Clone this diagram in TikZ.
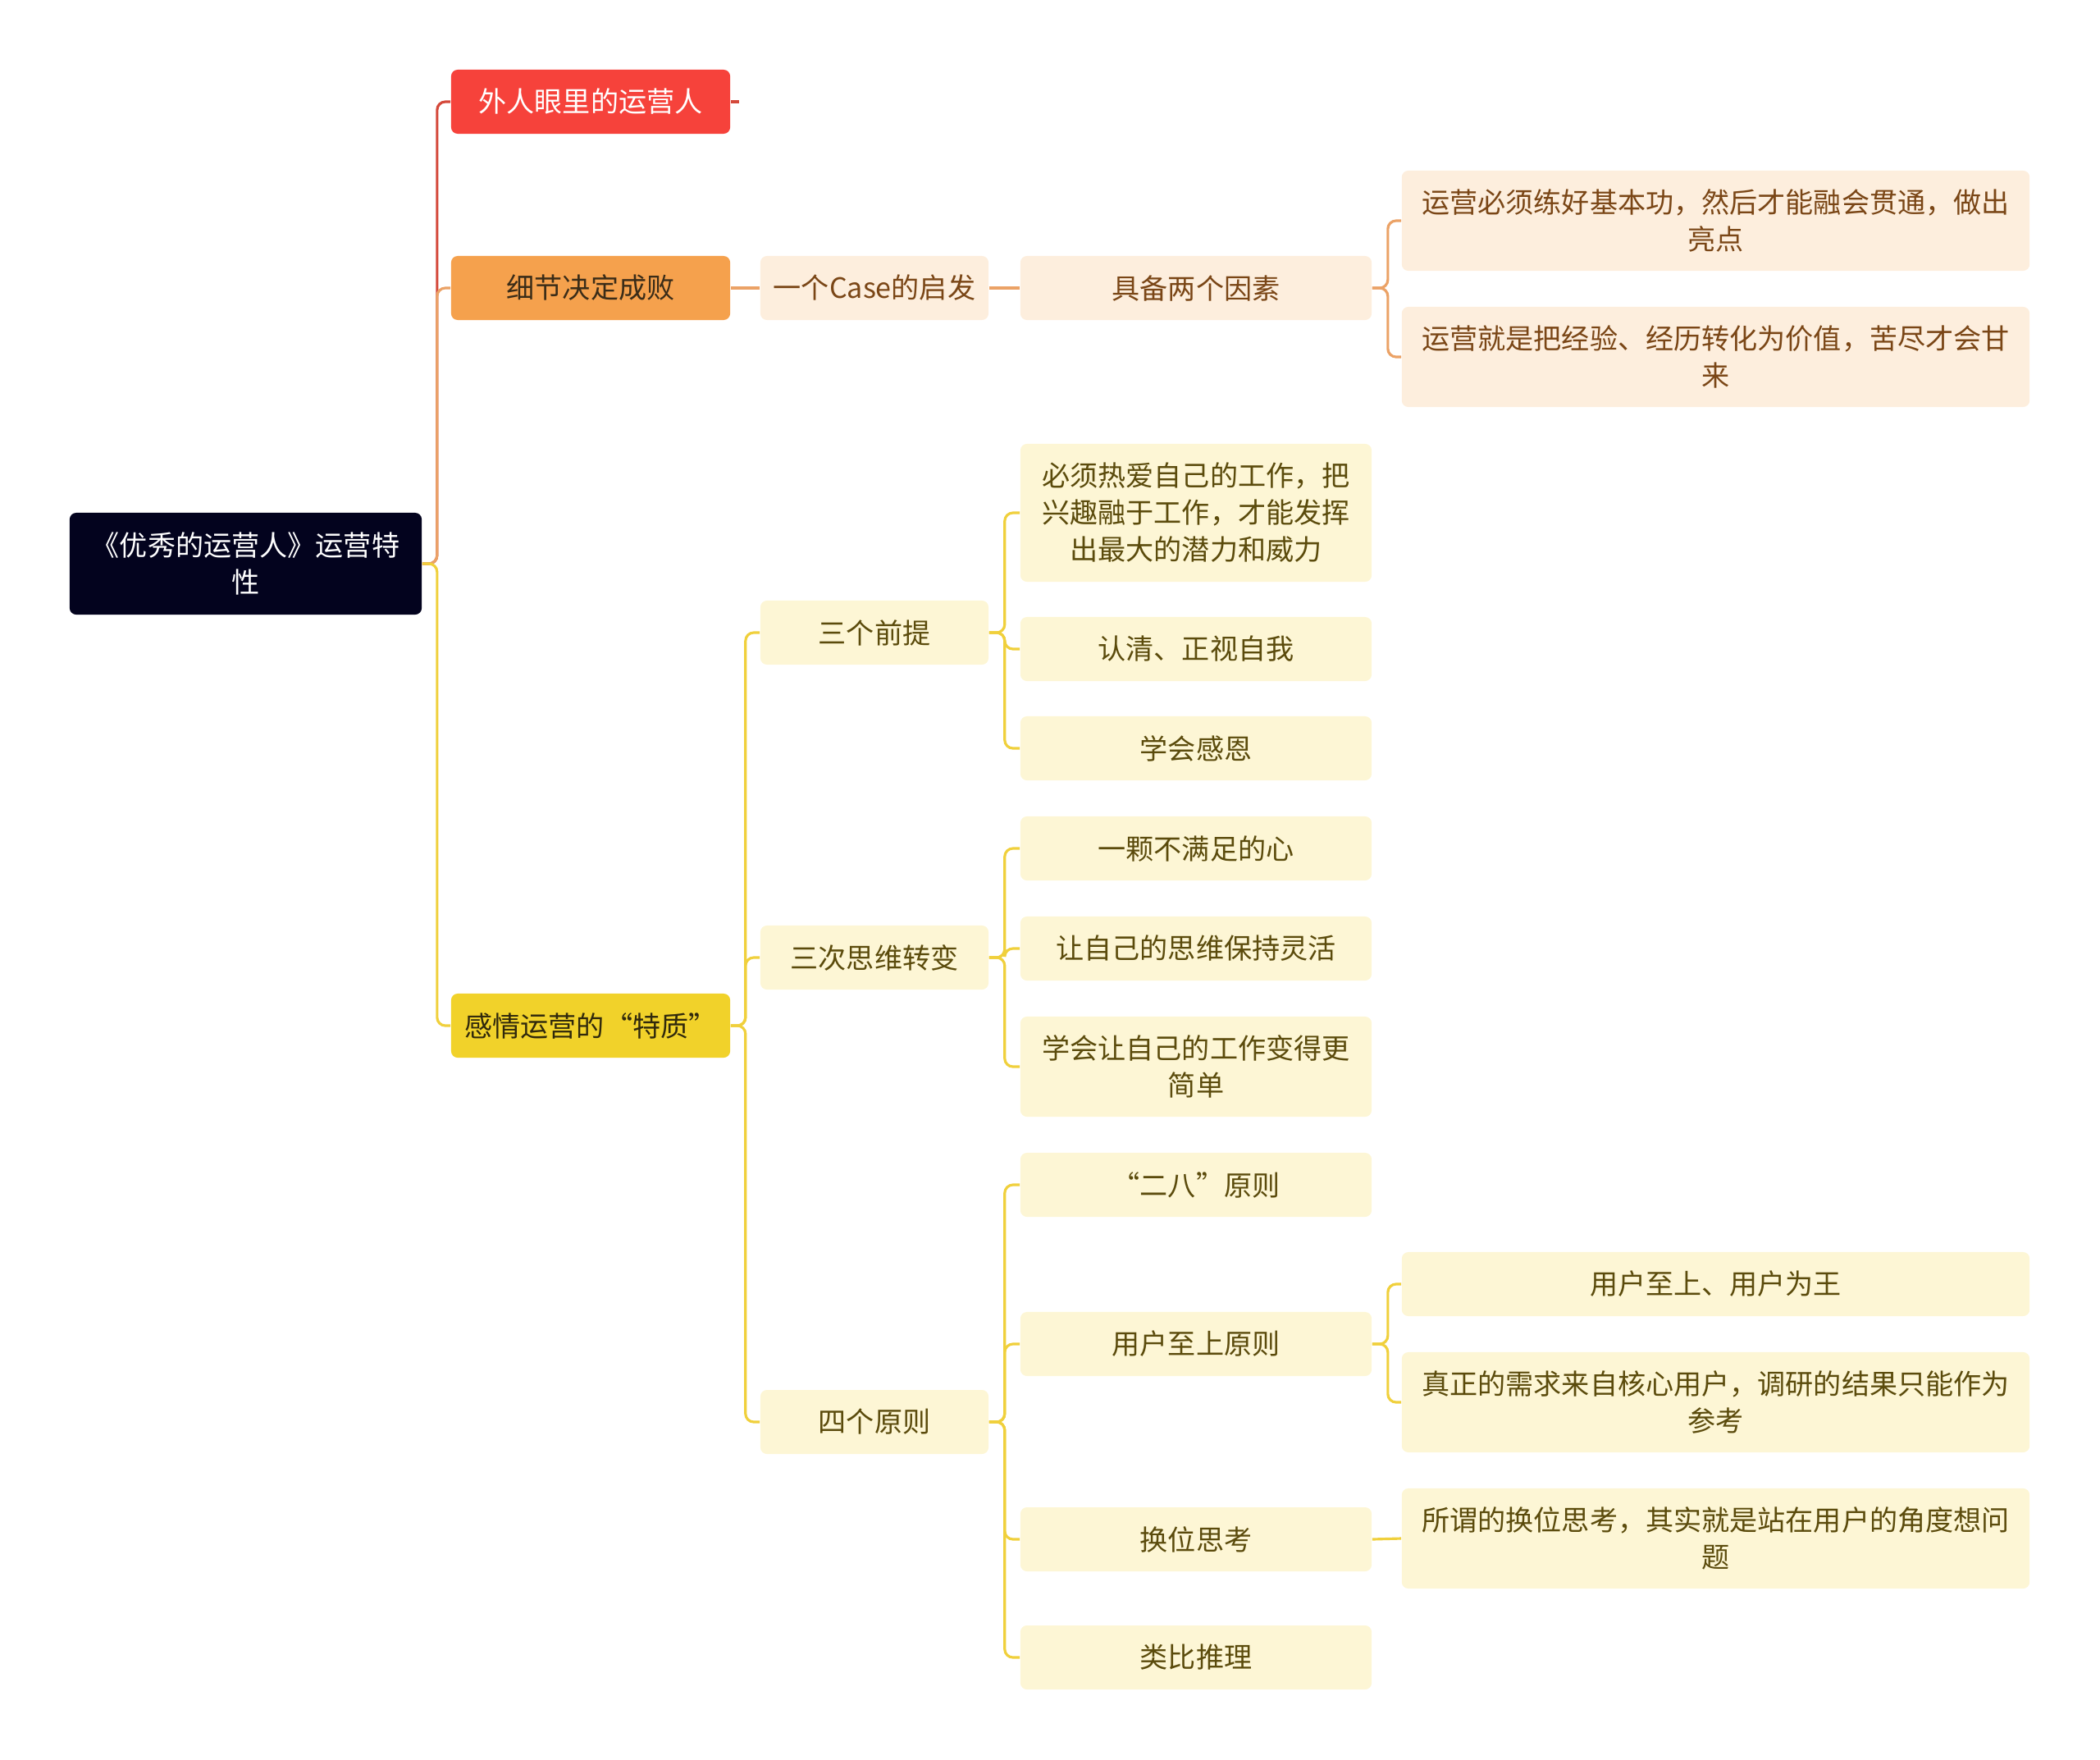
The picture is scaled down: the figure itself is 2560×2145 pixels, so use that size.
\documentclass[tikz,border=0pt]{standalone}
\usepackage{fontspec}
\setmainfont{Noto Sans CJK SC}
\usetikzlibrary{positioning}

\definecolor{rootnavy}{HTML}{03031E}
\definecolor{redfill}{HTML}{F6423B}
\definecolor{redline}{HTML}{D4483A}
\definecolor{orangefill}{HTML}{F5A14D}
\definecolor{orangeline}{HTML}{EBA266}
\definecolor{yellowfill}{HTML}{F1D22A}
\definecolor{yellowline}{HTML}{F0D03C}
\definecolor{peach}{HTML}{FDEEDD}
\definecolor{peachtext}{HTML}{7A4616}
\definecolor{cream}{HTML}{FDF6D5}
\definecolor{creamtext}{HTML}{5B4B0C}

\tikzset{
  box/.style={rounded corners=0.08cm, inner sep=0pt, align=center,
    minimum height=0.78cm, font=\fontsize{9.7}{12.8}\selectfont},
  rootbox/.style={box, fill=rootnavy, text=white, minimum width=4.29cm, minimum height=1.24cm},
  mainbox/.style={box, fill=#1, minimum width=3.4cm},
  casebox/.style={box, fill=#1, minimum width=2.78cm},
  midbox/.style={box, fill=#1, minimum width=4.28cm},
  widebox/.style={box, fill=#1, minimum width=7.65cm},
  link/.style={draw=#1, line width=0.9pt, rounded corners=0.1cm}
}

\begin{document}
\begin{tikzpicture}[x=0.01cm,y=-0.01cm]
    \useasboundingbox (0,0) rectangle (2560,2145);

    % root and first level
    \node[rootbox] (root) at (299.5,687) {《优秀的运营人》运营特\\性};
    \node[mainbox=redfill,text=white] (outsider) at (720,124) {外人眼里的运营人};
    \node[mainbox=orangefill,text={rgb,255:red,58;green,44;blue,24}] (detail) at (720,351) {细节决定成败};
    \node[mainbox=yellowfill,text={rgb,255:red,48;green,41;blue,12}] (emotion) at (720,1250) {感情运营的“特质”};
    \coordinate[right=0.1cm of outsider] (outsidertip);

    % orange branch
    \node[casebox=peach,text=peachtext] (casehint) at (1066,351) {一个Case的启发};
    \node[midbox=peach,text=peachtext] (twofactor) at (1458,351) {具备两个因素};
    \node[widebox=peach,text=peachtext,minimum height=1.22cm] (basics) at (2091.5,269) {运营必须练好基本功，然后才能融会贯通，做出\\亮点};
    \node[widebox=peach,text=peachtext,minimum height=1.22cm] (experience) at (2091.5,435) {运营就是把经验、经历转化为价值，苦尽才会甘\\来};

    % yellow branch
    \node[casebox=cream,text=creamtext] (premise) at (1066,771) {三个前提};
    \node[casebox=cream,text=creamtext] (mindset) at (1066,1167) {三次思维转变};
    \node[casebox=cream,text=creamtext] (principle) at (1066,1733) {四个原则};

    \node[midbox=cream,text=creamtext,minimum height=1.68cm] (lovework) at (1458,625) {必须热爱自己的工作，把\\兴趣融于工作，才能发挥\\出最大的潜力和威力};
    \node[midbox=cream,text=creamtext] (selfview) at (1458,791) {认清、正视自我};
    \node[midbox=cream,text=creamtext] (grateful) at (1458,912) {学会感恩};

    \node[midbox=cream,text=creamtext] (unsatisfied) at (1458,1034) {一颗不满足的心};
    \node[midbox=cream,text=creamtext] (flexible) at (1458,1156) {让自己的思维保持灵活};
    \node[midbox=cream,text=creamtext,minimum height=1.22cm] (simpler) at (1458,1300) {学会让自己的工作变得更\\简单};

    \node[midbox=cream,text=creamtext] (pareto) at (1458,1444) {“二八”原则};
    \node[midbox=cream,text=creamtext] (userfirst) at (1458,1638) {用户至上原则};
    \node[midbox=cream,text=creamtext] (empathy) at (1458,1876) {换位思考};
    \node[midbox=cream,text=creamtext] (analogy) at (1458,2020) {类比推理};

    \node[widebox=cream,text=creamtext] (userking) at (2091.5,1565) {用户至上、用户为王};
    \node[widebox=cream,text=creamtext,minimum height=1.22cm] (coreuser) at (2091.5,1709) {真正的需求来自核心用户，调研的结果只能作为\\参考};
    \node[widebox=cream,text=creamtext,minimum height=1.22cm] (userangle) at (2091.5,1875) {所谓的换位思考，其实就是站在用户的角度想问\\题};

    % connectors
    \draw[link=redline] (root.east) -- ++(18,0) |- (outsider.west);
    \draw[link=orangeline] (root.east) -- ++(18,0) |- (detail.west);
    \draw[link=yellowline] (root.east) -- ++(18,0) |- (emotion.west);
    \draw[link=redline] (outsider.east) -- (outsidertip);

    \draw[link=orangeline] (detail) -- (casehint);
    \draw[link=orangeline] (casehint) -- (twofactor);
    \draw[link=orangeline] (twofactor.east) -- ++(19,0) |- (basics.west);
    \draw[link=orangeline] (twofactor.east) -- ++(19,0) |- (experience.west);

    \foreach \kid in {premise,mindset,principle}
        \draw[link=yellowline] (emotion.east) -- ++(18,0) |- (\kid.west);
    \foreach \kid in {lovework,selfview,grateful}
        \draw[link=yellowline] (premise.east) -- ++(19,0) |- (\kid.west);
    \foreach \kid in {unsatisfied,flexible,simpler}
        \draw[link=yellowline] (mindset.east) -- ++(19,0) |- (\kid.west);
    \foreach \kid in {pareto,userfirst,empathy,analogy}
        \draw[link=yellowline] (principle.east) -- ++(19,0) |- (\kid.west);
    \foreach \kid in {userking,coreuser}
        \draw[link=yellowline] (userfirst.east) -- ++(19,0) |- (\kid.west);
    \draw[link=yellowline] (empathy.east) -- (userangle.west);
\end{tikzpicture}
\end{document}
